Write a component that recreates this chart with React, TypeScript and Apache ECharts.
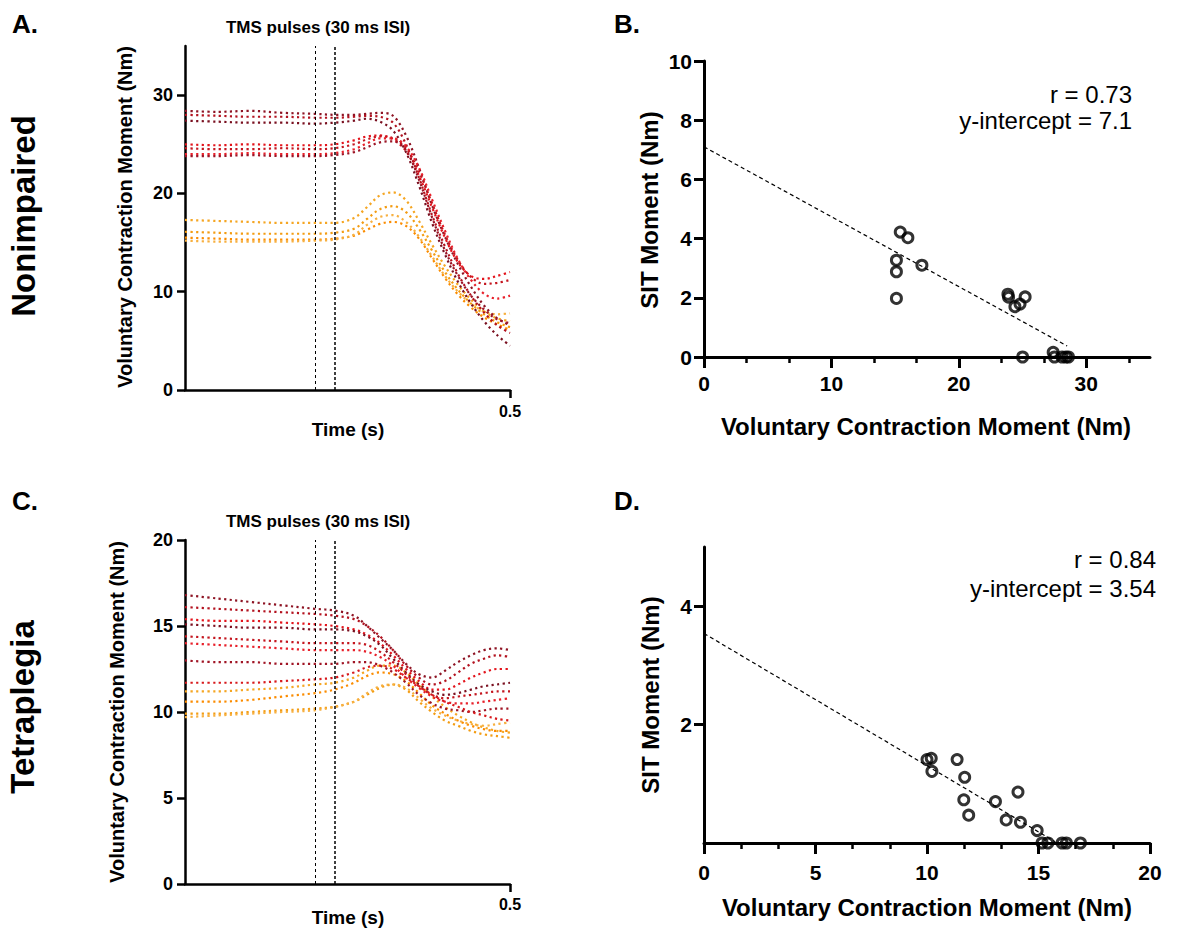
import React, { useEffect, useRef } from "react";
import * as echarts from "echarts";

const FONT = '"Liberation Sans", Arial, Helvetica, sans-serif';

// ---- Panel A / C : time traces ----
const T = [0, 0.05, 0.1, 0.15, 0.2, 0.23, 0.26, 0.28, 0.3, 0.32, 0.34, 0.36, 0.38, 0.4, 0.42, 0.44, 0.46, 0.48, 0.5];
const PULSE_TIMES = [0.2, 0.23];
const TIME_TICKS = [0.5];

const A_RED = [
  [28.4, 28.3, 28.4, 28.2, 28.1, 28.0, 28.0, 28.1, 28.2, 27.9, 25.9, 22.6, 18.8, 15.6, 12.8, 10.5, 8.6, 7.3, 6.6],
  [28.0, 27.9, 27.8, 27.8, 27.7, 27.7, 27.8, 27.9, 27.8, 27.2, 25.0, 21.6, 17.8, 14.6, 11.8, 9.6, 7.9, 6.6, 5.8],
  [27.4, 27.3, 27.2, 27.2, 27.1, 27.2, 27.4, 27.6, 27.3, 26.4, 24.2, 20.8, 17.0, 13.8, 11.0, 8.8, 7.0, 5.6, 4.5],
  [25.0, 24.9, 25.0, 24.9, 24.9, 25.0, 25.4, 25.8, 25.9, 25.5, 24.3, 21.8, 18.6, 15.5, 13.0, 11.6, 11.3, 11.6, 12.0],
  [24.6, 24.5, 24.5, 24.6, 24.5, 24.6, 25.0, 25.5, 25.8, 25.6, 24.6, 22.2, 19.0, 15.8, 13.2, 11.5, 10.8, 10.9, 11.2],
  [24.0, 24.0, 24.1, 24.0, 24.0, 24.1, 24.5, 25.1, 25.6, 25.6, 24.8, 22.6, 19.4, 16.2, 13.3, 11.2, 9.8, 9.3, 9.6],
  [23.8, 23.8, 23.9, 23.8, 23.8, 23.9, 24.2, 24.7, 25.2, 25.3, 24.4, 21.4, 17.6, 14.2, 11.6, 9.6, 8.2, 7.2, 6.8],
];
const A_RED_COLORS = ["#8e1424", "#b3121f", "#7a1020", "#e3141c", "#c4161f", "#e8202a", "#9c1526"];

const A_ORANGE = [
  [17.3, 17.2, 17.1, 17.0, 17.0, 17.0, 17.5, 18.6, 19.8, 20.1, 19.3, 17.2, 14.8, 12.6, 10.7, 9.2, 8.0, 7.3, 7.0],
  [16.1, 16.0, 15.9, 15.9, 15.9, 16.0, 16.4, 17.4, 18.4, 18.7, 18.1, 16.4, 14.2, 12.0, 10.2, 8.8, 7.7, 6.9, 6.4],
  [15.5, 15.4, 15.3, 15.3, 15.3, 15.4, 15.7, 16.3, 16.9, 17.1, 16.7, 15.4, 13.4, 11.4, 9.7, 8.4, 7.4, 6.7, 6.1],
  [15.2, 15.1, 15.1, 15.1, 15.2, 15.3, 15.8, 16.8, 17.6, 17.8, 17.1, 15.6, 13.6, 11.6, 10.0, 8.8, 8.0, 7.7, 7.8],
];
const A_ORANGE_COLORS = ["#f5a623", "#f39c12", "#fb8c00", "#f7b040"];

const C_RED = [
  [16.8, 16.6, 16.4, 16.2, 16.0, 15.9, 15.6, 15.0, 14.3, 13.6, 12.8, 12.2, 12.0, 12.4, 12.9, 13.3, 13.6, 13.7, 13.6],
  [16.1, 16.0, 15.9, 15.8, 15.7, 15.6, 15.4, 15.0, 14.4, 13.6, 12.7, 12.0, 11.6, 11.8, 12.3, 12.8, 13.1, 13.3, 13.2],
  [15.4, 15.3, 15.3, 15.2, 15.1, 15.0, 14.8, 14.5, 14.0, 13.3, 12.5, 11.8, 11.3, 11.3, 11.6, 12.0, 12.3, 12.5, 12.5],
  [15.1, 15.0, 14.9, 14.9, 14.8, 14.8, 14.7, 14.4, 13.9, 13.1, 12.3, 11.6, 11.2, 11.0, 11.1, 11.3, 11.5, 11.6, 11.7],
  [14.4, 14.3, 14.2, 14.1, 14.0, 14.0, 14.0, 13.9, 13.5, 12.9, 12.2, 11.5, 11.0, 10.8, 10.9, 11.0, 11.1, 11.2, 11.2],
  [14.0, 13.9, 13.8, 13.7, 13.6, 13.6, 13.6, 13.5, 13.2, 12.7, 12.0, 11.4, 10.9, 10.6, 10.5, 10.5, 10.6, 10.7, 10.8],
  [13.0, 12.9, 12.9, 12.8, 12.8, 12.8, 12.9, 12.9, 12.7, 12.3, 11.7, 11.0, 10.5, 10.2, 10.1, 10.0, 10.1, 10.2, 10.2],
  [11.7, 11.7, 11.7, 11.8, 11.9, 12.0, 12.3, 12.6, 12.7, 12.5, 12.0, 11.5, 11.0, 10.6, 10.3, 10.0, 9.8, 9.6, 9.5],
];
const C_RED_COLORS = ["#8e1424", "#b3121f", "#e3141c", "#7a1020", "#c4161f", "#e8202a", "#a01525", "#d7191c"];

const C_ORANGE = [
  [11.2, 11.2, 11.3, 11.4, 11.6, 11.7, 12.0, 12.4, 12.7, 12.7, 12.3, 11.6, 10.9, 10.3, 9.8, 9.4, 9.1, 8.9, 8.8],
  [10.6, 10.6, 10.7, 10.9, 11.1, 11.3, 11.7, 12.1, 12.3, 12.2, 11.8, 11.1, 10.4, 9.9, 9.5, 9.2, 9.0, 8.9, 8.9],
  [9.9, 9.9, 10.0, 10.1, 10.2, 10.3, 10.6, 11.0, 11.4, 11.6, 11.3, 10.6, 10.0, 9.5, 9.2, 8.9, 8.7, 8.6, 8.5],
  [9.7, 9.8, 9.9, 10.0, 10.1, 10.3, 10.6, 11.1, 11.5, 11.6, 11.4, 10.8, 10.2, 9.8, 9.5, 9.3, 9.2, 9.3, 9.4],
];
const C_ORANGE_COLORS = ["#f5a623", "#fb8c00", "#f39c12", "#f7b040"];

const A_Y_TICKS = [0, 10, 20, 30];
const C_Y_TICKS = [0, 5, 10, 15, 20];

// ---- Panel B / D : scatter ----
const B_X = [15.4, 16.0, 15.1, 15.1, 15.1, 17.1, 23.85, 23.9, 24.4, 24.8, 25.2, 25.0, 27.4, 27.5, 28.1, 28.4, 28.6];
const B_Y = [4.22, 4.03, 3.27, 2.88, 1.98, 3.1, 2.12, 2.02, 1.7, 1.79, 2.03, 0.0, 0.16, 0.0, 0.0, 0.0, 0.0];
const B_FIT_X = [0, 28.5];
const B_FIT_Y = [7.1, 0.37];
const B_X_MAJOR = [0, 10, 20, 30];
const B_X_MINOR = [3.333, 6.667, 13.333, 16.667, 23.333, 26.667, 33.333];
const B_STATS = ["r = 0.73", "y-intercept = 7.1"];

const D_X = [10.0, 10.19, 10.22, 11.35, 11.69, 11.65, 11.87, 13.07, 14.08, 13.55, 14.19, 14.94, 15.16, 15.42, 16.06, 16.25, 16.88];
const D_Y = [1.41, 1.43, 1.21, 1.41, 1.11, 0.73, 0.47, 0.7, 0.86, 0.39, 0.35, 0.21, 0.0, 0.0, 0.0, 0.0, 0.0];
const D_FIT_X = [0, 15.75];
const D_FIT_Y = [3.54, 0.02];
const D_X_MAJOR = [0, 5, 10, 15, 20];
const D_X_MINOR = [1.667, 3.333, 6.667, 8.333, 11.667, 13.333, 16.667, 18.333];
const D_Y_TICKS = [2, 4];
const D_STATS = ["r = 0.84", "y-intercept = 3.54"];

const zip = (xs: number[], ys: number[]) => xs.map((x, i) => [x, ys[i]]);

function traceSeries(rows: number[][], colors: string[], axis: number) {
  return rows.map((row, i) => ({
    type: "line",
    xAxisIndex: axis,
    yAxisIndex: axis,
    data: zip(T, row),
    smooth: 0.35,
    symbol: "none",
    silent: true,
    lineStyle: { color: colors[i % colors.length], width: 2.2, type: [2.2, 3.4] },
  }));
}

function pulseSeries(axis: number) {
  return {
    type: "line",
    xAxisIndex: axis,
    yAxisIndex: axis,
    data: [],
    markLine: {
      silent: true,
      symbol: "none",
      label: { show: false },
      data: PULSE_TIMES.map((t, i) => ({
        xAxis: t,
        lineStyle: { type: i === 0 ? [3, 3] : [3, 2], color: "#000", width: i === 0 ? 1 : 1.5 },
      })),
    },
  };
}

const boldLabel = (size: number, margin: number) => ({
  fontSize: size,
  fontWeight: "bold",
  color: "#000",
  fontFamily: FONT,
  margin,
});

function text(str: string, x: number, y: number, size: number, opts: any = {}) {
  const align = opts.align || "center";
  return {
    type: "text",
    x,
    y,
    rotation: opts.rotate ? Math.PI / 2 : 0,
    style: {
      text: str,
      fontSize: size,
      fontWeight: opts.weight || "bold",
      fontFamily: FONT,
      fill: "#000",
      textAlign: align,
      align,
      textVerticalAlign: "middle",
      verticalAlign: "middle",
    },
  };
}

const scatterStyle = { color: "rgba(255,255,255,0)", borderColor: "#000", borderWidth: 3 };

export default function App() {
  const ref = useRef<HTMLDivElement>(null);
  useEffect(() => {
    if (!ref.current) return;
    const chart = echarts.init(ref.current, undefined, { renderer: "svg" });
    const line = (w: number) => ({ show: true, onZero: false, lineStyle: { color: "#000", width: w } });
    const option: any = {
      animation: false,
      backgroundColor: "#fff",
      grid: [
        { left: 185, top: 46, width: 325, height: 344 },
        { left: 185, top: 540, width: 325, height: 344 },
        { left: 704, top: 61, width: 446, height: 296 },
        { left: 704, top: 547, width: 446, height: 296 },
      ],
      xAxis: [
        {
          gridIndex: 0, type: "value", min: 0, max: 0.5, axisLine: line(2.5),
          axisTick: { show: true, customValues: TIME_TICKS, length: 8, lineStyle: { color: "#000", width: 2.5 } },
          axisLabel: { ...boldLabel(16, 13), customValues: TIME_TICKS, formatter: (v: number) => String(v) },
          splitLine: { show: false },
        },
        {
          gridIndex: 1, type: "value", min: 0, max: 0.5, axisLine: line(2.5),
          axisTick: { show: true, customValues: TIME_TICKS, length: 8, lineStyle: { color: "#000", width: 2.5 } },
          axisLabel: { ...boldLabel(16, 12), customValues: TIME_TICKS, formatter: (v: number) => String(v) },
          splitLine: { show: false },
        },
        {
          gridIndex: 2, type: "value", min: 0, max: 35, position: "bottom", axisLine: line(3),
          axisTick: { show: true, customValues: B_X_MINOR, length: 6, lineStyle: { color: "#000", width: 2.5 } },
          axisLabel: { show: false },
          splitLine: { show: false },
        },
        {
          gridIndex: 2, type: "value", min: 0, max: 35, position: "bottom", axisLine: { show: false },
          axisTick: { show: true, customValues: B_X_MAJOR, length: 11, lineStyle: { color: "#000", width: 3 } },
          axisLabel: { ...boldLabel(21, 16), customValues: B_X_MAJOR },
          splitLine: { show: false },
        },
        {
          gridIndex: 3, type: "value", min: 0, max: 20, position: "bottom", axisLine: line(3),
          axisTick: { show: true, customValues: D_X_MINOR, length: 6, lineStyle: { color: "#000", width: 2.5 } },
          axisLabel: { show: false },
          splitLine: { show: false },
        },
        {
          gridIndex: 3, type: "value", min: 0, max: 20, position: "bottom", axisLine: { show: false },
          axisTick: { show: true, customValues: D_X_MAJOR, length: 11, lineStyle: { color: "#000", width: 3 } },
          axisLabel: { ...boldLabel(21, 19), customValues: D_X_MAJOR },
          splitLine: { show: false },
        },
      ],
      yAxis: [
        {
          gridIndex: 0, type: "value", min: 0, max: 35, axisLine: line(2.5),
          axisTick: { show: true, customValues: A_Y_TICKS, length: 8, lineStyle: { color: "#000", width: 2.5 } },
          axisLabel: { ...boldLabel(18, 12), customValues: A_Y_TICKS },
          splitLine: { show: false },
        },
        {
          gridIndex: 1, type: "value", min: 0, max: 20, axisLine: line(2.5),
          axisTick: { show: true, customValues: C_Y_TICKS, length: 8, lineStyle: { color: "#000", width: 2.5 } },
          axisLabel: { ...boldLabel(18, 12), customValues: C_Y_TICKS },
          splitLine: { show: false },
        },
        {
          gridIndex: 2, type: "value", min: 0, max: 10, interval: 2, axisLine: line(3),
          axisTick: { show: true, length: 10, lineStyle: { color: "#000", width: 3 } },
          axisLabel: boldLabel(21, 12),
          splitLine: { show: false },
        },
        {
          gridIndex: 3, type: "value", min: 0, max: 5, axisLine: line(3),
          axisTick: { show: true, customValues: D_Y_TICKS, length: 10, lineStyle: { color: "#000", width: 3 } },
          axisLabel: { ...boldLabel(21, 12), customValues: D_Y_TICKS },
          splitLine: { show: false },
        },
      ],
      series: [
        ...traceSeries(A_ORANGE, A_ORANGE_COLORS, 0),
        ...traceSeries(A_RED, A_RED_COLORS, 0),
        pulseSeries(0),
        ...traceSeries(C_ORANGE, C_ORANGE_COLORS, 1),
        ...traceSeries(C_RED, C_RED_COLORS, 1),
        pulseSeries(1),
        {
          type: "line", xAxisIndex: 2, yAxisIndex: 2, data: zip(B_FIT_X, B_FIT_Y), symbol: "none", silent: true,
          lineStyle: { color: "#000", width: 1.2, type: [4, 3] },
        },
        {
          type: "scatter", xAxisIndex: 2, yAxisIndex: 2, data: zip(B_X, B_Y), symbol: "circle", symbolSize: 10,
          itemStyle: scatterStyle,
        },
        {
          type: "line", xAxisIndex: 4, yAxisIndex: 3, data: zip(D_FIT_X, D_FIT_Y), symbol: "none", silent: true,
          lineStyle: { color: "#000", width: 1.2, type: [4, 3] },
        },
        {
          type: "scatter", xAxisIndex: 4, yAxisIndex: 3, data: zip(D_X, D_Y), symbol: "circle", symbolSize: 10,
          itemStyle: scatterStyle,
        },
      ],
      graphic: [
        text("A.", 12, 24, 26, { align: "left" }),
        text("B.", 614, 24, 26, { align: "left" }),
        text("C.", 12, 501, 26, { align: "left" }),
        text("D.", 614, 501, 26, { align: "left" }),
        text("Nonimpaired", 23, 216, 33, { rotate: true }),
        text("Tetraplegia", 22, 707, 33, { rotate: true }),
        text("Voluntary Contraction Moment (Nm)", 125, 217, 20, { rotate: true }),
        text("Voluntary Contraction Moment (Nm)", 117, 712, 20, { rotate: true }),
        text("TMS pulses (30 ms ISI)", 318, 27, 17),
        text("TMS pulses (30 ms ISI)", 318, 521, 17),
        text("Time (s)", 348, 429, 19),
        text("Time (s)", 348, 917, 19),
        text("SIT Moment (Nm)", 649, 210, 24, { rotate: true }),
        text("SIT Moment (Nm)", 650, 695, 24, { rotate: true }),
        text("Voluntary Contraction Moment (Nm)", 926, 426, 24),
        text("Voluntary Contraction Moment (Nm)", 927, 907, 24),
        text(B_STATS[0], 1132, 94, 24, { align: "right", weight: "normal" }),
        text(B_STATS[1], 1132, 120, 24, { align: "right", weight: "normal" }),
        text(D_STATS[0], 1156, 559, 24, { align: "right", weight: "normal" }),
        text(D_STATS[1], 1156, 588, 24, { align: "right", weight: "normal" }),
      ],
    };
    chart.setOption(option);
    return () => chart.dispose();
  }, []);
  return (
    <div
      ref={ref}
      style={{ position: "absolute", left: 0, top: 0, width: 1193, height: 937, background: "#fff" }}
    />
  );
}
